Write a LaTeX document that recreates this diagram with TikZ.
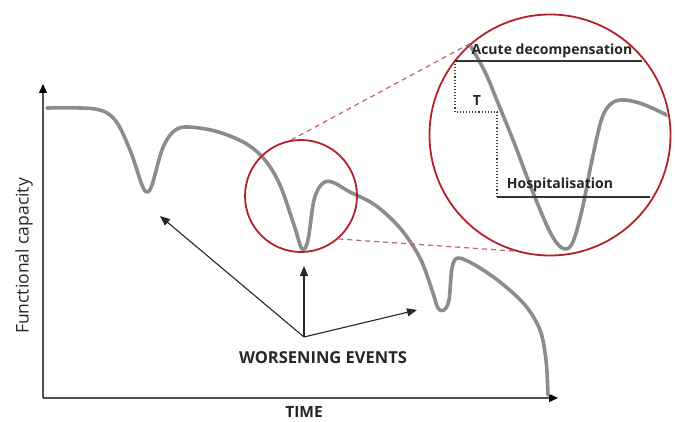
\documentclass[tikz,border=0pt]{standalone}
\usepackage{fontspec}
\setmainfont{Open Sans}
\usetikzlibrary{arrows.meta}
\definecolor{curvegray}{RGB}{140,140,140}
\definecolor{circred}{RGB}{178,34,40}
\definecolor{dashpink}{RGB}{190,95,125}
\definecolor{axisgray}{RGB}{80,80,80}
\begin{document}
\begin{tikzpicture}[x=1pt,y=-1pt,
  curve/.style={draw=curvegray,line width=3.6pt,line cap=round,line join=round},
  lens/.style={draw=circred,line width=1.8pt},
  zoomline/.style={draw=dashpink,line width=1.2pt,dash pattern=on 5pt off 4pt},
  axis/.style={draw=axisgray,line width=1.3pt,-{Triangle[length=9pt,width=8pt,color=black]}},
  pointer/.style={draw=black!85,line width=1.1pt,-{Triangle[length=10pt,width=8pt]}},
  lbl/.style={font=\bfseries\fontsize{16.5}{18}\selectfont,text=black!85,inner sep=0pt},
  small/.style={font=\bfseries\fontsize{14}{16}\selectfont,text=black!85,inner sep=0pt},
  level/.style={draw=black!80,line width=1.1pt},
  guide/.style={draw=black!75,line width=1.1pt,dotted}]
\useasboundingbox (0,0) rectangle (677,422);
% axes
\coordinate (origin) at (43,398);
\coordinate (ytop) at (43,84);
\coordinate (xend) at (558,398);
\draw[axis] (origin) -- (ytop);
\draw[axis] (origin) -- (xend);
\node[rotate=90,font=\fontsize{17.5}{20}\selectfont,text=black!85,inner sep=0pt] (ylab) at (24,256) {Functional capacity};
\node[lbl,font=\bfseries\fontsize{15.5}{18}\selectfont] (time) at (304,412) {TIME};
% main curve
\draw[curve] plot[smooth,tension=0.55] coordinates {(47,108) (95,109) (115,120) (130,150) (142,185) (147,192) (152,185) (162,150) (172,133) (185,127) (215,131) (245,143) (265,160) (280,185) (294,225) (302,249) (308,240) (314,200) (322,184) (332,182) (350,192) (375,205) (400,228) (420,258) (432,290) (438,308) (444,310) (449,300) (452,268) (458,258) (475,265) (500,282) (525,305) (540,330) (546,360) (548,395)};
% small lens
\node[circle,lens,minimum size=112pt,inner sep=0pt] (lensA) at (301,196) {};
% big lens
\node[circle,lens,minimum size=241pt,inner sep=0pt] (lensB) at (550,135) {};
% zoom lines
\draw[zoomline] (lensA.100) -- (lensB.131);
\draw[zoomline] (lensA.-49) -- (lensB.-107);
% zoomed curve
\begin{scope}
\clip (lensB.center) circle (119pt);
\draw[curve] plot[smooth,tension=0.55] coordinates {(466,38) (485,72) (498,103) (515,145) (532,190) (550,232) (562,248) (572,244) (582,210) (592,160) (602,118) (612,103) (625,100) (645,105) (675,119)};
\end{scope}
% levels
\coordinate (acL) at (455,61);
\coordinate (acR) at (642,61);
\coordinate (tC) at (455,112);
\coordinate (tD) at (497,112);
\coordinate (hoL) at (497,197);
\coordinate (hoR) at (650,197);
\draw[level] (acL) -- (acR);
\draw[level] (hoL) -- (hoR);
\draw[guide] (acL) -- (tC) -- (tD) -- (hoL);
\node[small] (acute) at (552,51) {Acute decompensation};
\node[small] (T) at (477,101) {T};
\node[small] (hosp) at (560,185) {Hospitalisation};
% worsening events
\node[lbl] (we) at (323,358) {WORSENING EVENTS};
\coordinate (hub) at (304,337);
\coordinate (e1) at (160,216);
\coordinate (e2) at (304,266);
\coordinate (e3) at (417,310);
\draw[pointer] (hub) -- (e1);
\draw[pointer] (hub) -- (e2);
\draw[pointer] (hub) -- (e3);
\end{tikzpicture}
\end{document}
